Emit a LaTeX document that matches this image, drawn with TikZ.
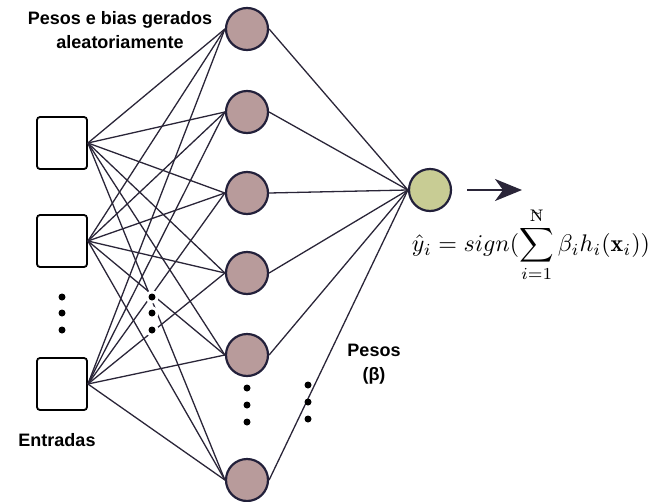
\documentclass[tikz,border=0pt]{standalone}
\usepackage{fontspec}
\usepackage{amsmath}
\setsansfont{Liberation Sans}
\usetikzlibrary{positioning,arrows.meta}

\definecolor{hiddenfill}{HTML}{B89B9B}
\definecolor{outfill}{HTML}{C8CC94}
\definecolor{edgecol}{HTML}{2A2538}
\definecolor{ringcol}{HTML}{22203A}

\begin{document}
\begin{tikzpicture}[
    x=1pt, y=-1pt,
    inbox/.style={
        rectangle,
        rounded corners=3pt,
        draw=black,
        line width=1.8pt,
        fill=white,
        minimum width=50pt,
        minimum height=52pt
    },
    neuron/.style={
        circle,
        draw=ringcol,
        line width=2.2pt,
        fill=hiddenfill,
        minimum size=42pt,
        inner sep=0pt
    },
    outneuron/.style={
        neuron,
        fill=outfill
    },
    link/.style={
        draw=edgecol,
        line width=1.3pt
    },
    label/.style={
        font=\sffamily\bfseries\fontsize{18}{24}\selectfont,
        align=center
    },
    dot/.style={circle, fill=black, inner sep=0pt, minimum size=7pt}
]
\useasboundingbox (0,0) rectangle (667,501);

% Inputs
\node[inbox] (in1) at (62,143) {};
\node[inbox] (in2) at (62,241) {};
\node[inbox] (in3) at (62,384) {};

% Hidden layer
\foreach \n/\y in {1/29, 2/112, 3/193, 4/273, 5/355, 6/480}
    \node[neuron] (h\n) at (247,\y) {};

% Output
\node[outneuron] (out) at (430,190) {};

% Connections
\foreach \i in {1,2,3}
    \foreach \n in {1,...,6}
        \draw[link] (in\i.east) -- (h\n.west);
\foreach \n in {1,...,6}
    \draw[link] (h\n.east) -- (out.west);

% Dots
\foreach \y in {297,313,330} {
    \fill[white] (152,\y) circle (6.5);
    \node[dot] at (152,\y) {};
    \node[dot] at (62,\y) {};
}
\foreach \y in {388,405,422}
    \node[dot] at (247,\y) {};
\foreach \y in {385,402,419}
    \node[dot] at (308,\y) {};

% Output arrow
\coordinate (arrowstart) at (467,190);
\coordinate (arrowtip) at (522,190);
\draw[edgecol, line width=2.4pt, -{Stealth[length=27pt,width=22pt,inset=8pt]}] (arrowstart) -- (arrowtip);

% Formula
\node[scale=2.4] (formula) at (531,245)
    {$\displaystyle \hat{y}_i = sign(\sum_{i=1}^{\mathrm{\tilde{N}}} \beta_i h_i(\mathbf{x}_i))$};

% Labels
\node[label] (title) at (120,30) {Pesos e bias gerados\\aleatoriamente};
\node[label] (entradas) at (57,440) {Entradas};
\node[label] (pesos) at (374,364) {Pesos\\(β)};

\end{tikzpicture}
\end{document}
